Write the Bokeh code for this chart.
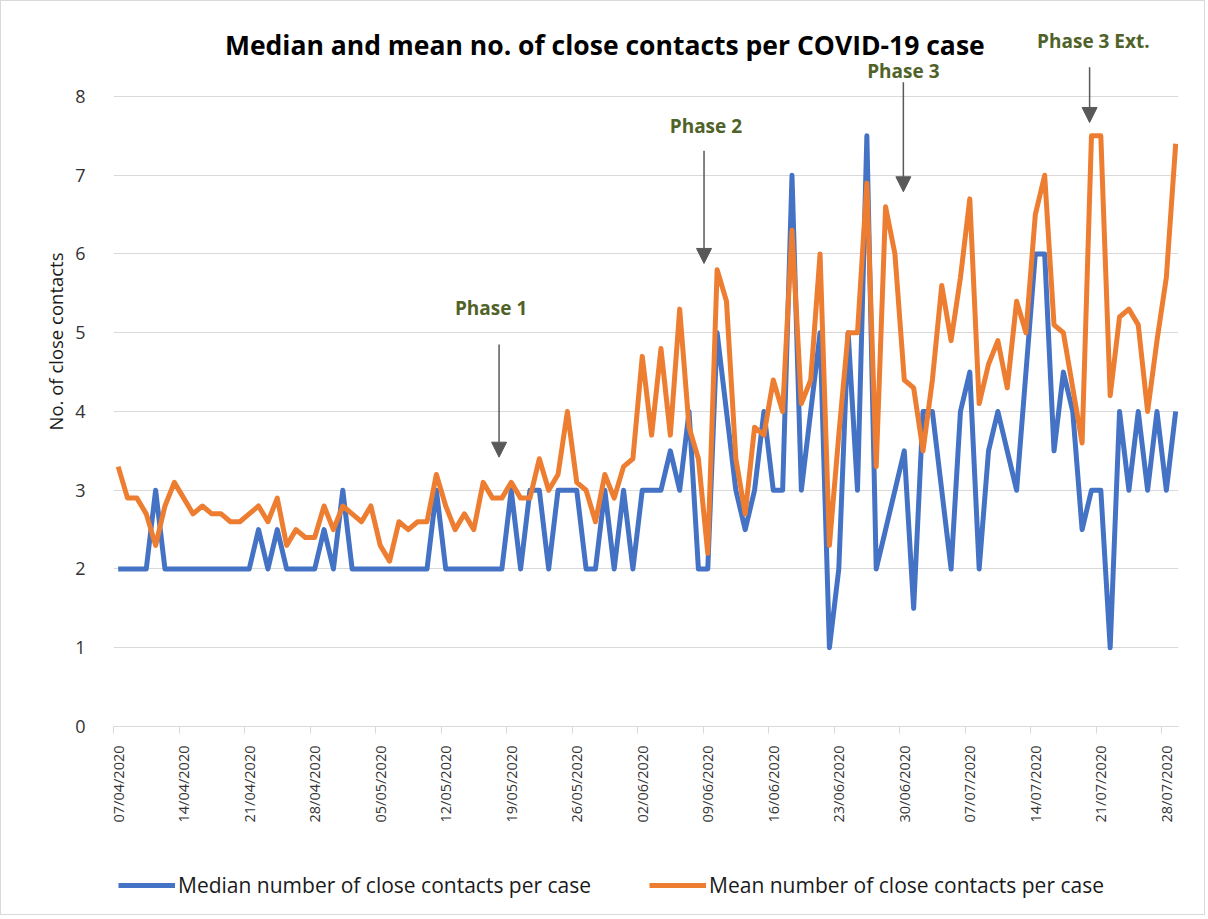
import math
import pandas as pd
from bokeh.plotting import figure
from bokeh.layouts import column
from bokeh.models import (Range1d, FixedTicker, DatetimeTickFormatter, Legend, LegendItem,
                          Label, Arrow, NormalHead, Title)
from bokeh.embed import file_html
from bokeh.resources import INLINE

# ---------------- data ----------------
start_date = "2020-04-07"
end_date = "2020-07-29"
median_contacts = [
    2, 2, 2, 2, 3, 2, 2, 2, 2, 2, 2, 2, 2, 2, 2, 2.5, 2, 2.5, 2, 2,
    2, 2, 2.5, 2, 3, 2, 2, 2, 2, 2, 2, 2, 2, 2, 3, 2, 2, 2, 2, 2,
    2, 2, 3, 2, 3, 3, 2, 3, 3, 3, 2, 2, 3, 2, 3, 2, 3, 3, 3, 3.5,
    3, 4, 2, 2, 5, 4, 3, 2.5, 3, 4, 3, 3, 7, 3, 4, 5, 1, 2, 5, 3,
    7.5, 2, 2.5, 3, 3.5, 1.5, 4, 4, 3, 2, 4, 4.5, 2, 3.5, 4, 3.5, 3, 4.5, 6, 6,
    3.5, 4.5, 4, 2.5, 3, 3, 1, 4, 3, 4, 3, 4, 3, 4,
]
mean_contacts = [
    3.3, 2.9, 2.9, 2.7, 2.3, 2.8, 3.1, 2.9, 2.7, 2.8, 2.7, 2.7, 2.6, 2.6, 2.7, 2.8, 2.6, 2.9, 2.3, 2.5,
    2.4, 2.4, 2.8, 2.5, 2.8, 2.7, 2.6, 2.8, 2.3, 2.1, 2.6, 2.5, 2.6, 2.6, 3.2, 2.8, 2.5, 2.7, 2.5, 3.1,
    2.9, 2.9, 3.1, 2.9, 2.9, 3.4, 3.0, 3.2, 4.0, 3.1, 3.0, 2.6, 3.2, 2.9, 3.3, 3.4, 4.7, 3.7, 4.8, 3.7,
    5.3, 3.8, 3.4, 2.2, 5.8, 5.4, 3.4, 2.7, 3.8, 3.7, 4.4, 4.0, 6.3, 4.1, 4.4, 6.0, 2.3, 3.7, 5.0, 5.0,
    6.9, 3.3, 6.6, 6.0, 4.4, 4.3, 3.5, 4.4, 5.6, 4.9, 5.7, 6.7, 4.1, 4.6, 4.9, 4.3, 5.4, 5.0, 6.5, 7.0,
    5.1, 5.0, 4.3, 3.6, 7.5, 7.5, 4.2, 5.2, 5.3, 5.1, 4.0, 4.9, 5.7, 7.4,
]
y_ticks = [0, 1, 2, 3, 4, 5, 6, 7, 8]
title_text = "Median and mean no. of close contacts per COVID-19 case"
y_title = "No. of close contacts"
series_names = ["Median number of close contacts per case", "Mean number of close contacts per case"]
phase_names = ["Phase 1", "Phase 2", "Phase 3", "Phase 3 Ext."]

dates = pd.date_range(start_date, end_date, freq="D")
DAY = 86400000.0
d0 = dates[0].value / 1e6  # ms


def xd(days):
    return d0 + days * DAY


BLUE = "#4472C4"
ORANGE = "#ED7D31"
GRID = "#D9D9D9"
TXT = "#333333"
OLIVE = "#4F6228"
ARROW = "#595959"
FONT = "Open Sans"

W = 1203
x_rng = (xd(-0.5), xd(113.3))
p = figure(width=W, height=840, output_backend="svg", toolbar_location=None,
           x_axis_type="datetime",
           x_range=Range1d(*x_rng), y_range=Range1d(0, 8.965),
           min_border_left=112, min_border_right=26, min_border_top=19, min_border_bottom=115)
p.outline_line_color = None

r_med = p.line(dates, median_contacts, line_color=BLUE, line_width=5, line_join="round")
r_mean = p.line(dates, mean_contacts, line_color=ORANGE, line_width=5, line_join="round")

# axes
week_ticks = [xd(i) for i in range(0, 114, 7)]
xa = p.xaxis[0]
xa.ticker = FixedTicker(ticks=week_ticks, minor_ticks=[t - DAY / 2 for t in week_ticks])
fmt = "%d/%m/%Y"
xa.formatter = DatetimeTickFormatter(days=fmt, months=fmt, years=fmt, hours=fmt, minutes=fmt,
                                     seconds=fmt, milliseconds=fmt, microseconds=fmt)
xa.major_label_orientation = math.pi / 2
xa.major_label_text_font = FONT
xa.major_label_text_font_size = "14.5px"
xa.major_label_text_color = TXT
xa.major_label_standoff = 12
xa.major_tick_out = 0
xa.major_tick_in = 0
xa.minor_tick_out = 7
xa.minor_tick_in = 0
xa.minor_tick_line_color = GRID
xa.axis_line_color = GRID

ya = p.yaxis[0]
ya.ticker = FixedTicker(ticks=y_ticks, minor_ticks=[])
ya.axis_line_color = None
ya.major_tick_line_color = None
ya.minor_tick_line_color = None
ya.major_label_text_font = FONT
ya.major_label_text_font_size = "18px"
ya.major_label_text_color = TXT
ya.major_label_standoff = 22

p.xgrid.grid_line_color = None
p.ygrid.grid_line_color = GRID
p.ygrid.grid_line_width = 1

# y-axis title (side panel title, shifted along the axis like the original)
p.add_layout(Title(text=y_title, align="left", offset=296, standoff=10, text_font=FONT,
                   text_font_size="18.5px", text_font_style="normal", text_color="#1a1a1a"),
             "left")

# chart title
p.add_layout(Label(x=xd(52.0), y=8.65, text=title_text, text_font=FONT, text_font_style="bold",
                   text_font_size="26.5px", text_color="#000000", text_align="center",
                   text_baseline="middle"))

# phase annotations: (arrow x in days, text x, text y, arrow top, arrow tip)
phase_pos = [(40.7, 39.85, 5.31, 4.85, 3.42),
             (62.6, 62.8, 7.62, 7.31, 5.88),
             (83.9, 83.9, 8.33, 8.18, 6.79),
             (103.8, 104.2, 8.71, 8.37, 7.67)]
for name, (ax_, tx, ty, y0, y1) in zip(phase_names, phase_pos):
    p.add_layout(Label(x=xd(tx), y=ty, text=name, text_font=FONT, text_font_style="bold",
                       text_font_size="19px", text_color=OLIVE, text_align="center",
                       text_baseline="middle"))
    p.add_layout(Arrow(end=NormalHead(size=15, fill_color=ARROW, line_color=ARROW),
                       x_start=xd(ax_), y_start=y0, x_end=xd(ax_), y_end=y1,
                       line_color=ARROW, line_width=1.5))

# legend strip below the chart (its own series copies lie outside its y range, only the
# legend samples show)
pl = figure(width=W, height=73, output_backend="svg", toolbar_location=None,
            x_axis_location=None, y_axis_location=None,
            x_range=Range1d(*x_rng), y_range=Range1d(-20, -19),
            min_border_left=0, min_border_right=0, min_border_top=0, min_border_bottom=0)
pl.outline_line_color = None
pl.grid.visible = False
l_med = pl.line(dates, median_contacts, line_color=BLUE, line_width=5)
l_mean = pl.line(dates, mean_contacts, line_color=ORANGE, line_width=5)
legend = Legend(items=[LegendItem(label=series_names[0], renderers=[l_med]),
                       LegendItem(label=series_names[1], renderers=[l_mean])],
                orientation="horizontal", location=(5, 15), margin=0, padding=4,
                glyph_width=57, glyph_height=24, label_standoff=3, spacing=58,
                label_text_font=FONT, label_text_font_size="21px", label_text_color="#1a1a1a",
                border_line_color=None, background_fill_alpha=0)
pl.add_layout(legend, "center")

layout = column(p, pl, spacing=0, styles={"border": "1px solid #D9D9D9"})

open("out.html", "w").write(file_html(layout, INLINE))
